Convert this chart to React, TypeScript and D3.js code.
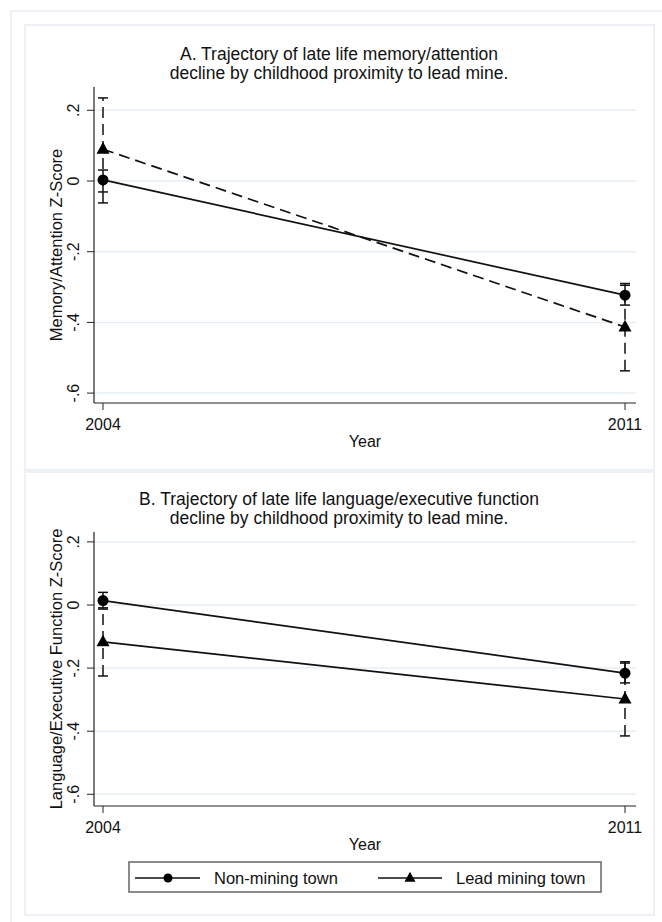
import React from "react";
import * as d3 from "d3";

// x categories and axis ticks
const years = [2004, 2011];
const yTicks = [0.2, 0, -0.2, -0.4, -0.6];
const yTickLabels = [".2", "0", "-.2", "-.4", "-.6"];

// Panel A: memory/attention
const memNonMining = [0.003, -0.323];
const memNonMiningLo = [-0.031, -0.351];
const memNonMiningHi = [0.031, -0.295];
const memLead = [0.09, -0.413];
const memLeadLo = [-0.062, -0.537];
const memLeadHi = [0.235, -0.29];

// Panel B: language/executive function
const langNonMining = [0.014, -0.216];
const langNonMiningLo = [-0.013, -0.247];
const langNonMiningHi = [0.04, -0.184];
const langLead = [-0.117, -0.298];
const langLeadLo = [-0.225, -0.415];
const langLeadHi = [-0.009, -0.18];

const legendLabels = ["Non-mining town", "Lead mining town"];

const FONT = "'Liberation Sans', Arial, sans-serif";
const GRID = "#e6eef3";
const FRAME = "#edf1f5";

const xScale = d3.scaleLinear().domain([2004, 2011]).range([103, 625]);
const plotLeft = 94;
const plotRight = 636;

function Triangle({ x, y, s }: { x: number; y: number; s: number }) {
  const h = s * 0.9;
  return (
    <path
      d={`M${x},${y - h * 0.62}L${x + s / 2},${y + h * 0.38}L${x - s / 2},${y + h * 0.38}Z`}
      fill="#000"
    />
  );
}

function Panel(props: {
  title: string[];
  titleY: number;
  yTitle: string;
  zeroY: number;
  perUnit: number;
  top: number;
  bottom: number;
  nonMining: number[];
  nonLo: number[];
  nonHi: number[];
  lead: number[];
  leadLo: number[];
  leadHi: number[];
  leadDashed: boolean;
}) {
  const y = d3
    .scaleLinear()
    .domain([0, 0.2])
    .range([props.zeroY, props.zeroY - props.perUnit * 0.2]);
  const line = d3
    .line<number>()
    .x((_, i) => xScale(years[i]))
    .y((d) => y(d));
  const dash = "11,6";
  const cap = 5;
  return (
    <g>
      {props.title.map((t, i) => (
        <text
          key={i}
          x={339}
          y={props.titleY + i * 19}
          textAnchor="middle"
          fontSize={17.5}
          fontFamily={FONT}
          fill="#111"
        >
          {t}
        </text>
      ))}
      {yTicks.map((t, i) => (
        <g key={i}>
          <line x1={plotLeft} x2={plotRight} y1={y(t)} y2={y(t)} stroke={GRID} strokeWidth={1.5} />
          <line x1={87} x2={plotLeft} y1={y(t)} y2={y(t)} stroke="#222" strokeWidth={1} />
          <text
            transform={`translate(79,${y(t)}) rotate(-90)`}
            textAnchor="middle"
            fontSize={16}
            fontFamily={FONT}
            fill="#111"
          >
            {yTickLabels[i]}
          </text>
        </g>
      ))}
      <line x1={plotLeft} x2={plotLeft} y1={props.top} y2={props.bottom} stroke="#222" strokeWidth={1.2} />
      <line x1={plotLeft} x2={plotRight} y1={props.bottom} y2={props.bottom} stroke="#222" strokeWidth={1.2} />
      {years.map((yr) => (
        <g key={yr}>
          <line x1={xScale(yr)} x2={xScale(yr)} y1={props.bottom} y2={props.bottom + 7} stroke="#222" strokeWidth={1} />
          <text x={xScale(yr)} y={props.bottom + 27} textAnchor="middle" fontSize={16} fontFamily={FONT} fill="#111">
            {yr}
          </text>
        </g>
      ))}
      <text x={365} y={props.bottom + 44} textAnchor="middle" fontSize={16} fontFamily={FONT} fill="#111">
        Year
      </text>
      <text
        transform={`translate(62,${(props.top + props.bottom) / 2}) rotate(-90)`}
        textAnchor="middle"
        fontSize={16.5}
        fontFamily={FONT}
        fill="#111"
      >
        {props.yTitle}
      </text>

      {/* error bars */}
      {years.map((yr, i) => (
        <g key={"eb" + yr}>
          <line x1={xScale(yr)} x2={xScale(yr)} y1={y(props.leadLo[i])} y2={y(props.leadHi[i])} stroke="#111" strokeWidth={1.5} strokeDasharray={dash} />
          <line x1={xScale(yr) - cap} x2={xScale(yr) + cap} y1={y(props.leadLo[i])} y2={y(props.leadLo[i])} stroke="#111" strokeWidth={1.5} />
          <line x1={xScale(yr) - cap} x2={xScale(yr) + cap} y1={y(props.leadHi[i])} y2={y(props.leadHi[i])} stroke="#111" strokeWidth={1.5} />
          <line x1={xScale(yr)} x2={xScale(yr)} y1={y(props.nonLo[i])} y2={y(props.nonHi[i])} stroke="#111" strokeWidth={1.5} />
          <line x1={xScale(yr) - cap} x2={xScale(yr) + cap} y1={y(props.nonLo[i])} y2={y(props.nonLo[i])} stroke="#111" strokeWidth={1.5} />
          <line x1={xScale(yr) - cap} x2={xScale(yr) + cap} y1={y(props.nonHi[i])} y2={y(props.nonHi[i])} stroke="#111" strokeWidth={1.5} />
        </g>
      ))}

      <path d={line(props.nonMining) || ""} fill="none" stroke="#111" strokeWidth={1.7} />
      <path
        d={line(props.lead) || ""}
        fill="none"
        stroke="#111"
        strokeWidth={1.7}
        strokeDasharray={props.leadDashed ? dash : undefined}
      />
      {years.map((yr, i) => (
        <g key={"m" + yr}>
          <circle cx={xScale(yr)} cy={y(props.nonMining[i])} r={5.5} fill="#000" />
          <Triangle x={xScale(yr)} y={y(props.lead[i])} s={13} />
        </g>
      ))}
    </g>
  );
}

export default function App() {
  return (
    <svg width={662} height={922} style={{ position: "absolute", left: 0, top: 0, background: "#fff" }}>
      <rect x={11} y={11} width={670} height={930} fill="none" stroke={FRAME} strokeWidth={2} />
      <rect x={25} y={25} width={629} height={445} fill="#fff" stroke={FRAME} strokeWidth={2} />
      <rect x={25} y={472} width={629} height={443} fill="#fff" stroke={FRAME} strokeWidth={2} />
      <Panel
        title={["A. Trajectory of late life memory/attention", "decline by childhood proximity to lead mine."]}
        titleY={60}
        yTitle="Memory/Attention Z-Score"
        zeroY={181}
        perUnit={353.5}
        top={87}
        bottom={403}
        nonMining={memNonMining}
        nonLo={memNonMiningLo}
        nonHi={memNonMiningHi}
        lead={memLead}
        leadLo={memLeadLo}
        leadHi={memLeadHi}
        leadDashed={true}
      />
      <Panel
        title={["B. Trajectory of late life language/executive function", "decline by childhood proximity to lead mine."]}
        titleY={505}
        yTitle="Language/Executive Function Z-Score"
        zeroY={605}
        perUnit={315.5}
        top={532}
        bottom={806}
        nonMining={langNonMining}
        nonLo={langNonMiningLo}
        nonHi={langNonMiningHi}
        lead={langLead}
        leadLo={langLeadLo}
        leadHi={langLeadHi}
        leadDashed={false}
      />
      {/* legend */}
      <g>
        <rect x={129} y={862} width={472} height={30} fill="#fff" stroke="#666" strokeWidth={1.5} />
        <line x1={135} x2={200} y1={878} y2={878} stroke="#111" strokeWidth={1.5} />
        <circle cx={168} cy={878} r={4.5} fill="#000" />
        <text x={214} y={884} fontSize={16.5} fontFamily={FONT} fill="#111">
          {legendLabels[0]}
        </text>
        <line x1={378} x2={442} y1={878} y2={878} stroke="#111" strokeWidth={1.5} />
        <Triangle x={410} y={878} s={11} />
        <text x={456} y={884} fontSize={16.5} fontFamily={FONT} fill="#111">
          {legendLabels[1]}
        </text>
      </g>
    </svg>
  );
}
